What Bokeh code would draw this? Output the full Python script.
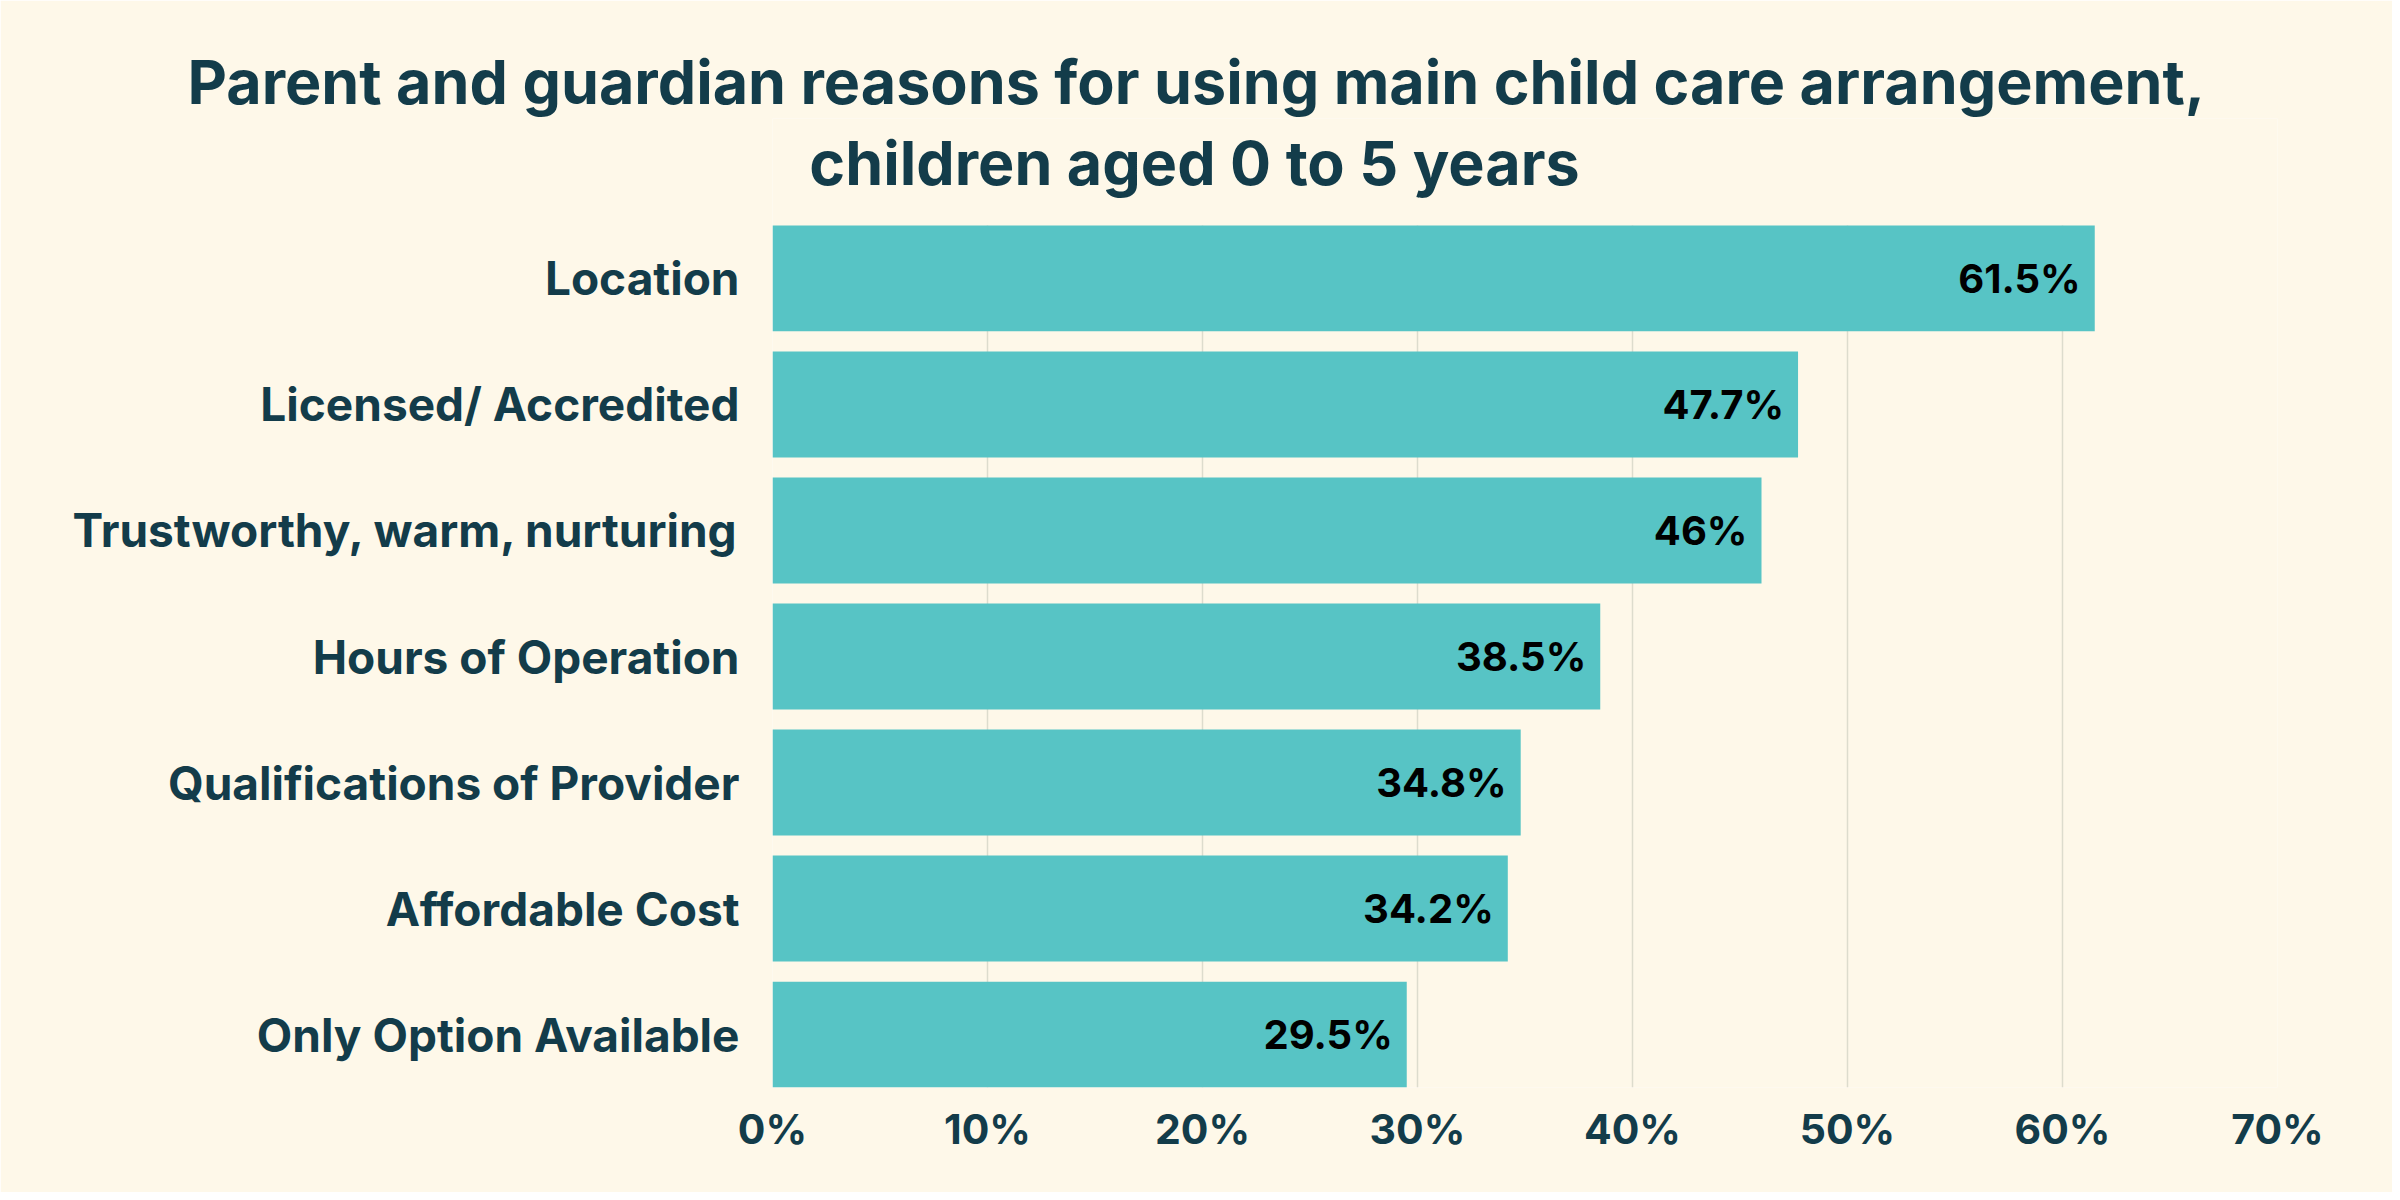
from bokeh.plotting import figure
from bokeh.models import ColumnDataSource, Range1d, FixedTicker, PrintfTickFormatter, LabelSet, Title, Grid
from bokeh.core.properties import value
from bokeh.embed import file_html
from bokeh.resources import INLINE

categories = ["Location", "Licensed/ Accredited", "Trustworthy, warm, nurturing",
              "Hours of Operation", "Qualifications of Provider", "Affordable Cost",
              "Only Option Available"]
values = [61.5, 47.7, 46, 38.5, 34.8, 34.2, 29.5]
value_labels = ["61.5%", "47.7%", "46%", "38.5%", "34.8%", "34.2%", "29.5%"]
x_ticks = [0, 10, 20, 30, 40, 50, 60, 70]
title_lines = ["Parent and guardian reasons for using main child care arrangement,",
               "children aged 0 to 5 years"]

BG = "#fef8e9"
BAR = "#57c4c5"
DARK = "#133c4a"
GRID = "#dddccd"
FONT = "Inter"

W, H = 2392, 1192
FL, FR, FB = 772, 2277, 1087      # frame left/right/bottom
BAR_TOP = 225                      # top edge of the first bar (px)
FT = 118                           # frame top (room for the 2nd title line)
TITLE_CX = 1194                    # title centre (px)
TITLE2_BASE = 162                  # 2nd title line baseline (px)

n = len(categories)
ypos = [n - 1 - i for i in range(n)]
y0, y1 = -0.42, n - 1 + 0.42
px_per_y = (FB - BAR_TOP) / (y1 - y0)
y_top = y1 + (BAR_TOP - FT) / px_per_y
src = ColumnDataSource(dict(y=ypos, v=values, lab=value_labels))

p = figure(width=W, height=H, output_backend="svg", toolbar_location=None,
           x_range=Range1d(0, 70), y_range=Range1d(y0, y_top),
           min_border_left=FL, min_border_right=W - FR,
           min_border_top=FT, min_border_bottom=H - FB)
p.background_fill_color = BG
p.border_fill_color = BG
p.outline_line_color = None

# vertical grid lines limited to the bar region
if "cross_bounds" in Grid.properties():
    p.xgrid.ticker = FixedTicker(ticks=x_ticks)
    p.xgrid.grid_line_color = GRID
    p.xgrid.grid_line_width = 1.5
    p.xgrid.cross_bounds = (y0, y1)
else:
    p.xgrid.grid_line_color = None
    p.segment(x0=x_ticks, x1=x_ticks, y0=[y0] * len(x_ticks), y1=[y1] * len(x_ticks),
              line_color=GRID, line_width=1.5)
p.ygrid.grid_line_color = None

p.hbar(y="y", right="v", left=0, height=0.84, source=src, color=BAR, line_color=None)

labels = LabelSet(x="v", y="y", text="lab", source=src, x_offset=-14, y_offset=0,
                  text_align="right", text_baseline="middle",
                  text_font=value(FONT), text_font_style="bold", text_font_size="40px",
                  text_color="#000000")
p.add_layout(labels)

p.xaxis.ticker = FixedTicker(ticks=x_ticks)
p.xaxis.formatter = PrintfTickFormatter(format="%d%%")
p.xaxis.axis_line_color = None
p.xaxis.major_tick_line_color = None
p.xaxis.minor_tick_line_color = None
p.xaxis.major_tick_out = 0
p.xaxis.major_tick_in = 0
p.xaxis.major_label_standoff = 16
p.xaxis.major_label_text_font = FONT
p.xaxis.major_label_text_font_style = "bold"
p.xaxis.major_label_text_font_size = "41px"
p.xaxis.major_label_text_color = DARK

p.yaxis.ticker = FixedTicker(ticks=ypos)
p.yaxis.major_label_overrides = {y: c for y, c in zip(ypos, categories)}
p.yaxis.axis_line_color = None
p.yaxis.major_tick_line_color = None
p.yaxis.minor_tick_line_color = None
p.yaxis.major_tick_out = 0
p.yaxis.major_tick_in = 0
p.yaxis.major_label_standoff = 33
p.yaxis.major_label_text_font = FONT
p.yaxis.major_label_text_font_style = "bold"
p.yaxis.major_label_text_font_size = "46px"
p.yaxis.major_label_text_color = DARK

# title line 1: a real plot title, left edge placed so the line is centred near x=1194
p.add_layout(Title(text=title_lines[0], align="left", offset=187 - FL, standoff=0,
                   text_font=FONT, text_font_style="bold", text_font_size="61px",
                   text_color=DARK), "above")

# title line 2: centred text inside the (extended) frame, above the bars
px_per_x = (FR - FL) / 70.0
t2 = ColumnDataSource(dict(x=[(TITLE_CX - FL) / px_per_x],
                           y=[y1 + (BAR_TOP - TITLE2_BASE) / px_per_y],
                           txt=[title_lines[1]]))
p.text(x="x", y="y", text="txt", source=t2, text_align="center", text_baseline="alphabetic",
       text_line_height=1.0,
       text_font=value(FONT), text_font_style="bold", text_font_size="61px", text_color=DARK)

html = file_html(p, INLINE)
html = html.replace("<body>", '<body style="background:%s">' % BG, 1)
open("out.html", "w").write(html)
